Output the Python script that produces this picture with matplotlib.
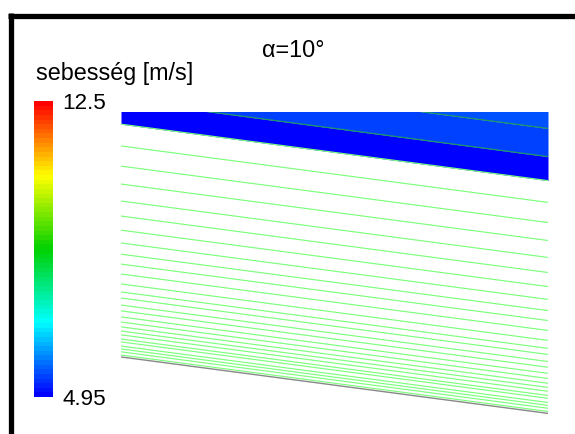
import numpy as np
import matplotlib
matplotlib.use("Agg")
import matplotlib.pyplot as plt
from matplotlib.colors import LinearSegmentedColormap, Normalize
from matplotlib.lines import Line2D

plt.rcParams['font.family'] = ['Liberation Sans', 'DejaVu Sans']

# --- data -----------------------------------------------------------------
alpha_deg = 10.0                       # inclination of the plate
v_min, v_max = 4.95, 12.5              # colour scale limits [m/s]

# streamline heights above the wall at the leading edge (x = 0)
line_heights = [0.890, 0.802, 0.727, 0.659, 0.596, 0.540, 0.487, 0.440,
                0.396, 0.356, 0.321, 0.290, 0.259, 0.228, 0.203, 0.184,
                0.162, 0.144, 0.125, 0.109, 0.094, 0.081, 0.069, 0.056,
                0.047, 0.034, 0.025, 0.016, 0.006]

# speed of the filled bands between the upper streamlines
# (band 0 lies above the first line, band i between line i-1 and line i)
band_speeds = [5.55, 5.45, 4.95]

# --- colour map ------------------------------------------------------------
cmap = LinearSegmentedColormap.from_list(
    "fluent",
    [(0.00, (0.0, 0.0, 1.0)),
     (0.25, (0.0, 1.0, 1.0)),
     (0.50, (0.0, 0.82, 0.0)),
     (0.75, (1.0, 1.0, 0.0)),
     (1.00, (1.0, 0.0, 0.0))], N=64)
norm = Normalize(v_min, v_max)

W, H = 575, 434
fig = plt.figure(figsize=(W / 100, H / 100), dpi=100)

# --- flow field -------------------------------------------------------------
ax = fig.add_axes([121 / W, 1 - 420 / H, 427 / W, 308 / H])
x = np.linspace(0.0, 1.0, 200)
slope = np.tan(np.radians(alpha_deg))
y_top, y_bottom = 0.765, -0.197
ax.set_xlim(0, 1)
ax.set_ylim(y_bottom, y_top)
ax.axis("off")

n_bands = len(band_speeds)
for i, v in enumerate(band_speeds):
    lower = line_heights[i] - slope * x
    upper = (y_top + slope) * np.ones_like(x) if i == 0 else line_heights[i - 1] - slope * x
    ax.fill_between(x, lower, upper, color=cmap(norm(v)), lw=0, zorder=1)

for j, h in enumerate(line_heights):
    inside = j < n_bands - 1
    ax.plot(x, h - slope * x, color='#1a9a60' if inside else '#7dff7d',
            lw=0.85, solid_capstyle='butt', zorder=2)

# wall
ax.plot(x, -slope * x, color='#888888', lw=1.0, zorder=3)

# --- colour bar -------------------------------------------------------------
cax = fig.add_axes([34 / W, 1 - 397 / H, 19 / W, 296 / H])
sm = plt.cm.ScalarMappable(norm=norm, cmap=cmap)
cb = fig.colorbar(sm, cax=cax, ticks=[v_min, v_max])
cb.outline.set_visible(False)
cb.ax.tick_params(length=0, pad=7, labelsize=16.2)
cb.ax.set_yticklabels(["4.95", "12.5"])

fig.text(36 / W, 1 - 80 / H, "sebesség [m/s]", fontsize=16.8,
         ha='left', va='baseline')
fig.text(293 / W, 1 - 57 / H, "α=10°", fontsize=16.8,
         ha='center', va='baseline')

# window frame
fig.add_artist(Line2D([10.5 / W, 10.5 / W], [0, 1 - 13 / H],
                      transform=fig.transFigure, color='black', lw=3.8,
                      solid_capstyle='butt'))
fig.add_artist(Line2D([8 / W, 1], [1 - 15.5 / H, 1 - 15.5 / H],
                      transform=fig.transFigure, color='black', lw=3.8,
                      solid_capstyle='butt'))

fig.savefig("out.png", dpi=100)
